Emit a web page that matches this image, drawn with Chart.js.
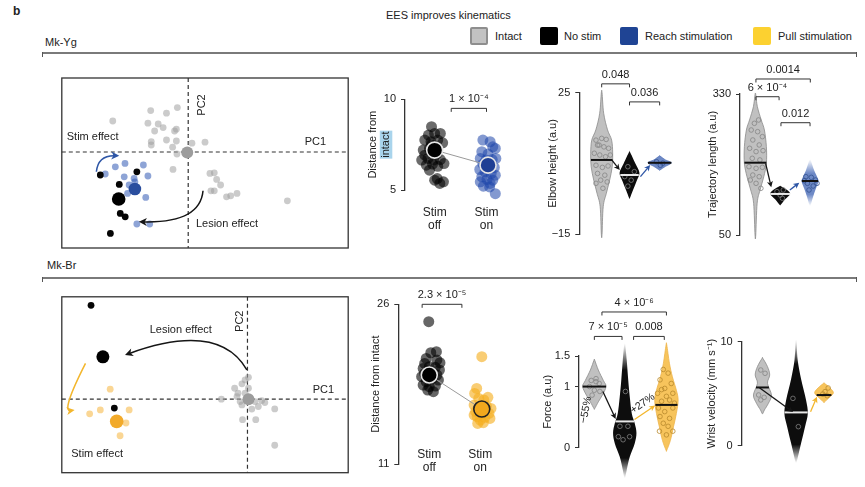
<!DOCTYPE html>
<html><head><meta charset="utf-8">
<script src="https://cdn.jsdelivr.net/npm/chart.js@4.4.1/dist/chart.umd.min.js"></script>
<style>
body{margin:0;width:865px;height:487px;background:#fff;position:relative;overflow:hidden;font-family:"Liberation Sans",Arial,Helvetica,sans-serif;color:#222}
.t{position:absolute;font-size:11px;white-space:nowrap;line-height:1}
canvas{position:absolute}
.sw{position:absolute;width:18px;height:18px;box-sizing:border-box;border-radius:2px}
.rule{position:absolute;height:0;border-top:2px solid #7a7a7a}
.tk{position:absolute;width:0;height:5px;border-left:1.5px solid #555}
</style></head><body>
<div class="t" style="left:13px;top:5px;font-weight:bold;font-size:12px">b</div>
<div class="t" style="left:386px;top:10px">EES improves kinematics</div>
<div class="sw" style="left:470px;top:27px;background:#c2c2c2;border:2px solid #8e8e8e"></div>
<div class="t" style="left:495px;top:31px">Intact</div>
<div class="sw" style="left:540px;top:27px;background:#000"></div>
<div class="t" style="left:564px;top:31px">No stim</div>
<div class="sw" style="left:620px;top:27px;background:#1f4494"></div>
<div class="t" style="left:645px;top:31px">Reach stimulation</div>
<div class="sw" style="left:753px;top:27px;background:#fcd130"></div>
<div class="t" style="left:778px;top:31px">Pull stimulation</div>
<div class="t" style="left:45px;top:37px">Mk-Yg</div>
<div class="rule" style="left:42px;top:52px;width:815px"></div>
<div class="tk" style="left:42px;top:52px"></div><div class="tk" style="left:856px;top:52px"></div>
<div class="t" style="left:47px;top:260px">Mk-Br</div>
<div class="rule" style="left:42px;top:277px;width:815px"></div>
<div class="tk" style="left:42px;top:277px"></div><div class="tk" style="left:856px;top:277px"></div>
<script>
// ================= DATA =================
const groups = ['Intact', 'No stim', 'Reach stimulation', 'Pull stimulation'];

// ---- Mk-Yg : PCA ----
const ygIntactPC1 = [-3.82,-1.9,-1.1,-0.55,-2.04,-1.52,-1.27,-1.7,-0.6,-0.69,-1.1,-0.6,-1.87,-1.87,-0.79,-0.57,0.19,0.85,-0.77,1.1,1.32,1.44,1.64,1.15,1.32,1.94,2.15,2.47,5.02];
const ygIntactPC2 = [1.55,2.07,1.94,2.22,1.44,1.4,1.22,1.05,1.14,1.05,0.6,0.55,0.52,0.35,0.24,-0.1,0.44,0.49,-0.87,-1.07,-1.04,-1.37,-1.65,-1.94,-1.94,-2.24,-2.19,-2.07,-2.44];
const ygReachPC1 = [-4.2,-3.69,-3.2,-2.27,-3.24,-2.74,-2.04,-2.99,-2.7,-2.15,-2.6,-1.95,-3.07];
const ygReachPC2 = [-1.1,-0.74,-0.57,-0.65,-1.24,-1.32,-1.2,-1.65,-1.49,-2.27,-3.6,-3.6,-2.07];
const ygNoStimPC1 = [-4.45,-2.6,-3.49,-3.44,-3.19,-3.94];
const ygNoStimPC2 = [-1.15,-0.99,-1.62,-3.07,-3.24,-4.07];
const ygMeanPC1 = [-0.05,-3.52,-2.7];   // intact, no stim, reach
const ygMeanPC2 = [-0.03,-2.35,-1.85];

// ---- Mk-Yg : distance from intact ----
const ygDistTicks = [10,5];
const ygDistOff = [8.49,8.03,8.12,8.12,7.75,7.66,7.75,7.6,7.29,7.2,6.98,6.74,6.65,6.65,6.68,6.37,6.43,6.31,6.46,6.09,5.63,5.54,5.36,5.45,7.48,7.38,6.92];
const ygDistOffJitter = [-0.06,-0.12,0,0.11,-0.19,-0.07,0.06,0.155,-0.1,-0.22,0.036,-0.13,-0.25,-0.02,0.11,-0.16,-0.04,0.06,0.18,-0.1,0.05,0,0.1,0.17,-0.06,0.02,-0.19];
const ygDistOn = [7.75,7.66,7.29,7.38,7.11,6.98,6.74,6.65,6.68,6.74,6.43,6.31,6.24,6.13,6.0,5.91,5.82,5.73,5.58,5.54,5.21,5.17,4.8,4.65,5.45,5.36];
const ygDistOnJitter = [-0.07,0.07,0.17,0.12,-0.09,0.03,-0.12,-0.01,0.11,0.18,-0.07,0.06,0.15,-0.13,-0.03,0.09,0.17,-0.09,0.01,0.12,-0.06,0.06,0.17,-0.03,-0.12,0.07];
const ygDistMeans = [7.2,6.37];
const ygDistBracket = {x1:1.32, x2:2.0, y:9.5, label:'1 × 10⁻⁴'};

// ---- Mk-Yg : elbow height ----
const elbowTicks = [25,-15];
const elbowTickLabels = ['25','−15'];
const elbowIntactLevels = [25,19.2,14.5,11.6,7.9,4.1,0.3,-3.4,-7.2,-15];
const elbowIntactDensity = [0.03,0.17,0.5,0.85,0.94,0.9,0.68,0.4,0.13,0.03];
const elbowNoStimLevels = [8.3,5,2.3,0,-2.5,-4.8];
const elbowNoStimDensity = [0.03,0.5,0.85,0.6,0.3,0.03];
const elbowReachLevels = [7.1,6,5.2,4.2,3.2];
const elbowReachDensity = [0.03,0.5,1.0,0.5,0.03];
const elbowMedians = [6.0,1.75,5.2];
const elbowIntactPts = [11.6,12.1,11.8,10.2,9.7,9.3,7.9,7.4,6.9,7.4,4.5,3.9,4.3,2.2,1.7,0.3,-0.2,-0.6,-2,10.2];
const elbowIntactJit = [-0.51,0,0.4,-0.37,0.2,0.62,-0.66,-0.17,0.34,0.77,-0.51,0.06,0.57,-0.37,0.28,-0.09,0.49,-0.51,0.11,-0.23];
const elbowNoStimPts = [4.1,2.7,1.3,0.3,-1.4];
const elbowNoStimJit = [-0.15,0.43,-0.43,0.15,-0.15];
const elbowReachPts = [5.5,4.5,5.1];
const elbowReachJit = [-0.28,0.06,0.28];
const elbowBrackets = [{x1:1,x2:1.97,y:27.5,label:'0.048'},{x1:1.97,x2:3.02,y:22.4,label:'0.036'}];
const elbowArrows = [{x1:1.35,y1:6.0,x2:1.63,y2:3.16,c:'black'},{x1:2.35,y1:1.27,x2:2.69,y2:4.58,c:'blue'}];

// ---- Mk-Yg : trajectory length ----
const trajTicks = [330,50];
const trajTickLabels = ['330','50'];
const trajIntactLevels = [329,304.8,278.4,258.5,225.4,192.3,165.8,139.4,112.9,50];
const trajIntactDensity = [0.03,0.17,0.5,0.77,0.94,0.94,0.72,0.4,0.15,0.03];
const trajNoStimLevels = [147.3,139.4,131.5,120.9,109.6];
const trajNoStimDensity = [0.03,0.6,0.85,0.43,0.03];
const trajReachLevels = [200.3,179.1,165.8,155.9,142.7,126.1,107.6];
const trajReachDensity = [0.03,0.34,0.6,0.71,0.51,0.26,0.03];
const trajMedians = [193.6,131.5,157.2];
const trajIntactPts = [258.5,255.2,245.3,238.7,228.8,222.2,215.6,217.5,202.3,199,185.7,182.4,184.4,169.1,165.8,159.2,152.6,142.7,271.8,278.4];
const trajIntactJit = [-0.37,0.2,0.62,-0.23,0.34,-0.51,0.06,0.68,-0.28,0.4,-0.57,0.06,0.62,-0.23,0.34,-0.45,0.06,0.49,-0.09,0.28];
const trajNoStimPts = [136.1,139.4,129.4,122.9];
const trajNoStimJit = [-0.28,0.28,0,0.2];
const trajReachPts = [165.8,164.5,159.2,152.6,147.3,139.4,157.9,152.6];
const trajReachJit = [-0.37,0.11,0.49,-0.23,0.28,-0.09,-0.51,0.62];
const trajBrackets = [{x1:1.02,x2:3.04,y:359.8,label:'0.0014'},{x1:1.02,x2:1.88,y:324.6,label:'6 × 10⁻⁴'},{x1:1.95,x2:3.03,y:273,label:'0.012'}];
const trajArrows = [{x1:1.38,y1:192.4,x2:1.59,y2:144.7,c:'black'},{x1:2.28,y1:139.4,x2:2.63,y2:153.9,c:'blue'}];

// ---- Mk-Br : PCA ----
const brIntactPC1 = [-0.12,0.05,-0.28,-0.65,-0.48,0.05,-0.12,-1.32,-0.37,-0.28,0.38,0.72,0.88,0.55,0.22,1.38,-0.25,0.42,1.38,-0.53];
const brIntactPC2 = [0.97,1.1,0.77,0.55,0.3,0.55,0.3,0,-0.12,-0.29,-0.12,-0.07,-0.17,-0.37,-0.5,-0.49,-1.03,-1.03,-2.32,0.13];
const brPullPC1 = [-6.95,-7.99,-7.45,-5.99,-6.15,-6.45];
const brPullPC2 = [0.5,-0.74,-0.54,-0.54,-1.2,-1.84];
const brNoStimPC1 = [-7.92,-6.74];
const brNoStimPC2 = [4.72,-0.45];
const brMeanPC1 = [0.05,-7.32,-6.62];   // intact, no stim, pull
const brMeanPC2 = [0,2.13,-1.12];

// ---- Mk-Br : distance from intact ----
const brDistTicks = [26,11];
const brDistOff = [24.37,21.45,21.55,20.77,20.92,19.98,20.14,20.08,19.83,19.51,19.2,19.36,19.04,18.73,18.89,18.42,18.26,18.32,17.95,17.79,20.51,20.45];
const brDistOffJitter = [-0.01,0.03,0.14,0.15,-0.06,-0.12,0,0.12,0.2,-0.09,-0.15,0.15,0.06,-0.06,0.18,-0.12,0,0.12,-0.03,0.08,0.21,-0.09];
const brDistOn = [21.08,18.1,17.63,17.26,17.16,17.01,16.54,16.44,16.22,15.91,15.75,15.75,15.44,15.38,15.13,15.6,15.28,14.88,14.81];
const brDistOnJitter = [0.03,-0.07,-0.11,0.15,-0.03,0.07,-0.12,0.12,0.21,-0.09,0.03,0.17,-0.06,0.09,0,-0.12,0.19,0.06,-0.05];
const brDistMeans = [19.36,16.16];
const brDistBracket = {x1:0.86, x2:1.64, y:26, label:'2.3 × 10⁻⁵'};

// ---- Mk-Br : force ----
const forceTicks = [1.5,1,0];
const forceTickLabels = ['1.5','1','0'];
const forceIntactLevels = [1.43,1.27,1.1,1.0,0.86,0.75,0.64];
const forceIntactDensity = [0.03,0.34,0.77,1.0,0.68,0.34,0.03];
const forceNoStimLevels = [1.71,1.43,1.1,0.83,0.56,0.4,0.24,0.07,-0.15,-0.36,-0.5];
const forceNoStimDensity = [0.03,0.17,0.3,0.43,0.6,0.85,1.0,0.85,0.43,0.17,0.03];
const forcePullLevels = [1.68,1.38,1.16,0.94,0.78,0.56,0.34,0.12,-0.04];
const forcePullDensity = [0.03,0.26,0.51,0.85,1.0,0.85,0.6,0.34,0.03];
const forceMedians = [1.0,0.43,0.70];
const forceIntactPts = [1.1,1.13,1.05,1.0,0.94,0.92,0.86,1.08];
const forceIntactJit = [-0.28,0.15,0.43,-0.43,0,0.49,-0.2,0.15];
const forceNoStimPts = [0.92,0.35,0.18,0.13,0.18,0.35];
const forceNoStimJit = [0.06,0.28,-0.57,-0.15,0.43,-0.43];
const forcePullPts = [1.28,1.22,1.11,1.05,0.97,0.89,0.89,0.84,0.76,0.78,0.65,0.65,0.59,0.51,0.48,0.40,0.35,0.27,0.27,0.21,0.95,0.73];
const forcePullJit = [-0.28,0.15,-0.57,0.43,-0.15,-0.79,0.57,0,-0.43,0.28,-0.71,0.57,-0.15,-0.57,0.28,-0.28,0.15,-0.62,0.57,0,-0.43,0.71];
const forceBrackets = [{x1:1.25,x2:3.37,y:2.22,label:'4 × 10⁻⁶'},{x1:1,x2:1.91,y:1.82,label:'7 × 10⁻⁵'},{x1:2.29,x2:3.3,y:1.82,label:'0.008'}];
const forceArrows = [{x1:1.28,y1:0.92,x2:1.7,y2:0.47,c:'black'},{x1:2.32,y1:0.46,x2:3.0,y2:0.69,c:'yellow'}];
const forceNotes = [{t:'−55%',x:0.72,y:0.62,rot:-80},{t:'+27%',x:2.59,y:0.72,rot:-35}];

// ---- Mk-Br : wrist velocity ----
const wristTicks = [10,0];
const wristTickLabels = ['10','0'];
const wristIntactLevels = [8.4,7.6,6.8,6.0,4.88,4.08,3.44,3.1];
const wristIntactDensity = [0.03,0.43,0.62,0.43,0.77,0.51,0.17,0.03];
const wristNoStimLevels = [10.2,8.3,6.4,4.4,3.1,1.85,0.25,-1.67];
const wristNoStimDensity = [0.03,0.13,0.43,0.85,1.0,0.77,0.43,0.03];
const wristPullLevels = [6.0,5.55,5.1,4.7,4.2];
const wristPullDensity = [0.03,0.51,0.8,0.51,0.03];
const wristMedians = [5.6,3.2,4.87];
const wristIntactPts = [7.28,6.96,4.88,4.65,4.4];
const wristIntactJit = [-0.15,0.23,-0.34,0.15,-0.15];
const wristNoStimPts = [4.55,1.83];
const wristNoStimJit = [-0.28,0.2];
const wristPullPts = [5.55,4.97,4.8,5.2];
const wristPullJit = [0.37,-0.11,0.28,0.09];
const wristArrows = [{x1:0.91,y1:5.58,x2:1.91,y2:3.23,c:'black'},{x1:2.43,y1:3.27,x2:2.62,y2:4.71,c:'yellow'}];

// ================= STYLE =================
const FONT = '"Liberation Sans", Arial, Helvetica, sans-serif';
Chart.defaults.font.family = FONT;
Chart.defaults.font.size = 11;
Chart.defaults.color = '#222';
const VIOLIN_HALF_PX = 11.7;
const ARROWC = {black:'#151515', blue:'#2e56a6', yellow:'#f3b62c'};
const VSTYLE = {
  intact:{fill:'#c0c0c0', edge:'#8a8a8a', pt:'#858585', med:'#111'},
  nostim:{fill:'#0d0d0d', edge:null, pt:'#808080', med:'#e8e8e8'},
  reach:{fill:'#6d89c6', edge:'#5674b8', pt:'#34528f', med:'#111'},
  pull:{fill:'#f7c45c', edge:'#eeb44a', pt:'#b8892c', med:'#111'}
};

// ================= HELPERS =================
function addCanvas(b){
  const c=document.createElement('canvas');
  c.width=b.w; c.height=b.h;
  c.style.left=b.x+'px'; c.style.top=b.y+'px';
  c.style.width=b.w+'px'; c.style.height=b.h+'px';
  document.body.appendChild(c); return c;
}
function smoothClosed(ctx,p){
  const n=p.length; ctx.moveTo(p[0][0],p[0][1]);
  for(let i=0;i<n;i++){
    const p0=p[(i-1+n)%n],p1=p[i],p2=p[(i+1)%n],p3=p[(i+2)%n];
    ctx.bezierCurveTo(p1[0]+(p2[0]-p0[0])/6,p1[1]+(p2[1]-p0[1])/6,p2[0]-(p3[0]-p1[0])/6,p2[1]-(p3[1]-p1[1])/6,p2[0],p2[1]);
  }
  ctx.closePath();
}
function head(ctx,x,y,ang,size,color){
  ctx.save(); ctx.translate(x,y); ctx.rotate(ang);
  ctx.beginPath(); ctx.moveTo(0,0); ctx.lineTo(-size,-size*0.5); ctx.lineTo(-size*0.72,0); ctx.lineTo(-size,size*0.5); ctx.closePath();
  ctx.fillStyle=color; ctx.fill(); ctx.restore();
}
function straightArrow(ctx,x1,y1,x2,y2,color){
  const a=Math.atan2(y2-y1,x2-x1);
  ctx.save(); ctx.strokeStyle=color; ctx.lineWidth=1.3;
  ctx.beginPath(); ctx.moveTo(x1,y1); ctx.lineTo(x2-Math.cos(a)*4,y2-Math.sin(a)*4); ctx.stroke(); ctx.restore();
  head(ctx,x2,y2,a,6,color);
}
function curvedArrow(ctx,p0,c,p2,color){
  ctx.save(); ctx.strokeStyle=color; ctx.lineWidth=1.5;
  const a=Math.atan2(p2[1]-c[1],p2[0]-c[0]);
  ctx.beginPath(); ctx.moveTo(p0[0],p0[1]); ctx.quadraticCurveTo(c[0],c[1],p2[0]-Math.cos(a)*4,p2[1]-Math.sin(a)*4); ctx.stroke(); ctx.restore();
  head(ctx,p2[0],p2[1],a,8,color);
}
function bracket(ctx,xs,ys,b){
  const x1=xs.getPixelForValue(b.x1), x2=xs.getPixelForValue(b.x2), y=ys.getPixelForValue(b.y);
  ctx.save(); ctx.strokeStyle='#333'; ctx.lineWidth=1;
  ctx.beginPath(); ctx.moveTo(x1,y+3.5); ctx.lineTo(x1,y); ctx.lineTo(x2,y); ctx.lineTo(x2,y+3.5); ctx.stroke();
  ctx.fillStyle='#222'; ctx.font='11px '+FONT; ctx.textAlign='center'; ctx.textBaseline='middle';
  ctx.fillText(b.label,(x1+x2)/2,y-9); ctx.restore();
}
function interp(levels,dens,v){
  for(let i=0;i<levels.length-1;i++){
    const a=levels[i], b=levels[i+1];
    if((v<=a&&v>=b)||(v>=a&&v<=b)){ const t=(v-a)/(b-a||1); return dens[i]+(dens[i+1]-dens[i])*t; }
  }
  return 0;
}
function yAxis(P,W){
  return {type:'linear', min:P.min, max:P.max,
    afterFit:s=>{s.width=W;},
    afterBuildTicks:s=>{s.ticks=P.ticks.map(v=>({value:v}));},
    ticks:{callback:v=>P.tickLabels[P.ticks.indexOf(v)], font:{size:11}, color:'#222', padding:5},
    grid:{drawOnChartArea:false, drawTicks:true, tickLength:4, color:'#333', lineWidth:1},
    border:{display:true, color:'#333', width:1.3},
    title:{display:true, text:P.title, font:{size:11}, color:'#222', padding:{top:4,bottom:4}}};
}

// ================= VIOLIN PANELS =================
function violinPanel(L,P){
  const canvas=addCanvas(L);
  const W=L.axisX-L.x;
  const xmin=P.groupX[0]-(L.c0-L.axisX)/L.ppu;
  const xmax=xmin+(L.x+L.w-L.axisX)/L.ppu;
  const hwU=VIOLIN_HALF_PX/L.ppu;
  const datasets=P.violins.map(v=>({
    data:v.vals.map((val,i)=>({x:P.groupX[v.g]+v.jit[i]*hwU,y:val})),
    pointRadius:2.3, pointBorderWidth:0.8, pointBackgroundColor:'rgba(0,0,0,0)',
    pointBorderColor:VSTYLE[v.st].pt, clip:false, showLine:false}));
  const plug={id:'vio',
    beforeDatasetsDraw(chart){
      const {ctx,scales:{x,y}}=chart;
      P.violins.forEach(v=>{
        const s=VSTYLE[v.st];
        const cx=x.getPixelForValue(P.groupX[v.g]);
        const hw=VIOLIN_HALF_PX;
        ctx.save(); ctx.beginPath();
        const r=v.levels.map((val,i)=>[cx+v.dens[i]*hw,y.getPixelForValue(val)]);
        const l=v.levels.map((val,i)=>[cx-v.dens[i]*hw,y.getPixelForValue(val)]).reverse();
        smoothClosed(ctx,r.concat(l));
        let fill=s.fill;
        if(v.fade){
          const yt=y.getPixelForValue(v.levels[0]), yb=y.getPixelForValue(v.levels[v.levels.length-1]);
          const g=ctx.createLinearGradient(0,yt,0,yb);
          const rgb=s.fill==='#0d0d0d'?'13,13,13':'109,137,198';
          g.addColorStop(0,'rgba('+rgb+',0)'); g.addColorStop(v.fade[0],'rgba('+rgb+',1)');
          g.addColorStop(v.fade[1],'rgba('+rgb+',1)'); g.addColorStop(1,'rgba('+rgb+',0)');
          fill=g;
        }
        ctx.fillStyle=fill; ctx.fill();
        if(s.edge&&!v.fade){ctx.strokeStyle=s.edge; ctx.lineWidth=0.8; ctx.stroke();}
        ctx.restore();
      });
    },
    afterDatasetsDraw(chart){
      const {ctx,scales:{x,y}}=chart;
      P.violins.forEach(v=>{
        const s=VSTYLE[v.st];
        const cx=x.getPixelForValue(P.groupX[v.g]);
        const w=Math.max(interp(v.levels,v.dens,v.median),0.55)*VIOLIN_HALF_PX;
        const my=y.getPixelForValue(v.median);
        ctx.save(); ctx.strokeStyle=s.med; ctx.lineWidth=2;
        ctx.beginPath(); ctx.moveTo(cx-w,my); ctx.lineTo(cx+w,my); ctx.stroke(); ctx.restore();
      });
      (P.arrows||[]).forEach(a=>straightArrow(ctx,x.getPixelForValue(a.x1),y.getPixelForValue(a.y1),x.getPixelForValue(a.x2),y.getPixelForValue(a.y2),ARROWC[a.c]));
      (P.brackets||[]).forEach(b=>bracket(ctx,x,y,b));
      (P.notes||[]).forEach(n=>{
        ctx.save(); ctx.translate(x.getPixelForValue(n.x),y.getPixelForValue(n.y)); ctx.rotate(n.rot*Math.PI/180);
        ctx.fillStyle='#222'; ctx.font='10.5px '+FONT; ctx.textAlign='center'; ctx.textBaseline='middle';
        ctx.fillText(n.t,0,0); ctx.restore();
      });
    }};
  new Chart(canvas,{type:'scatter',data:{datasets},
    options:{responsive:false,animation:false,devicePixelRatio:1,events:[],
      layout:{padding:{left:0,right:0,top:L.top-L.y,bottom:L.y+L.h-L.bottom}},
      plugins:{legend:{display:false},tooltip:{enabled:false}},
      scales:{x:{type:'linear',display:false,min:xmin,max:xmax},y:yAxis(P,W)}},
    plugins:[plug]});
}

// ================= DISTANCE PANELS =================
function distPanel(L,P){
  const canvas=addCanvas(L);
  const W=L.axisX-L.x;
  const xmin=1-(L.c0-L.axisX)/L.ppu;
  const xmax=xmin+(L.x+L.w-L.axisX)/L.ppu;
  const means=[{x:1,y:P.means[0]},{x:2.03,y:P.means[1]}];
  const datasets=[
    {data:means,pointRadius:8,pointBackgroundColor:P.meanFill,pointBorderColor:P.meanEdge,pointBorderWidth:1.6,order:1,clip:false},
    {data:means,showLine:true,borderColor:'#9a9a9a',borderWidth:1,pointRadius:0,order:2,clip:false},
    {data:P.off.map((v,i)=>({x:1+P.offJit[i],y:v})),pointRadius:5.5,pointBorderWidth:0,pointBackgroundColor:P.offColor,order:3,clip:false},
    {data:P.on.map((v,i)=>({x:2+P.onJit[i],y:v})),pointRadius:5.5,pointBorderWidth:0,pointBackgroundColor:P.onColor,order:3,clip:false}];
  const plug={id:'dist',
    beforeDraw(chart){
      if(!P.highlight) return;
      const {ctx}=chart; const s=chart.scales.y;
      const cy=(s.top+s.bottom)/2; const lx=s.left+4+6.6+13.2;
      ctx.save(); ctx.fillStyle='#a9d4ec'; ctx.fillRect(lx-6,cy-14,12.5,28); ctx.restore();
    },
    afterDatasetsDraw(chart){
      const {ctx,scales:{x,y}}=chart;
      bracket(ctx,x,y,P.bracket);
      ctx.save(); ctx.fillStyle='#222'; ctx.font='12px '+FONT; ctx.textAlign='center'; ctx.textBaseline='middle';
      P.cats.forEach((lines,i)=>{ const cx=x.getPixelForValue(i+1); lines.forEach((t,j)=>ctx.fillText(t,cx,L.catY[j]-L.y)); });
      ctx.restore();
    }};
  new Chart(canvas,{type:'scatter',data:{datasets},
    options:{responsive:false,animation:false,devicePixelRatio:1,events:[],
      layout:{padding:{left:0,right:0,top:L.top-L.y,bottom:L.y+L.h-L.bottom}},
      plugins:{legend:{display:false},tooltip:{enabled:false}},
      scales:{x:{type:'linear',display:false,min:xmin,max:xmax},y:yAxis(P,W)}},
    plugins:[plug]});
}

// ================= PCA PANELS =================
function pcaPanel(L,P){
  const canvas=addCanvas(L);
  const datasets=[
    {data:P.means.map((m,i)=>({x:m[0],y:m[1]})),pointRadius:P.meanR,pointBackgroundColor:P.meanColors,pointBorderWidth:0,order:1},
    {data:P.other.map(o=>({x:o[0],y:o[1]})),pointRadius:3.4,pointBorderWidth:0,pointBackgroundColor:P.otherColors,order:2},
    {data:P.intact.map(o=>({x:o[0],y:o[1]})),pointRadius:3.4,pointBorderWidth:0,pointBackgroundColor:'rgba(160,160,160,0.55)',order:3}];
  const plug={id:'pca',
    beforeDatasetsDraw(chart){
      const {ctx,chartArea:a,scales:{x,y}}=chart;
      ctx.save(); ctx.strokeStyle='#333'; ctx.lineWidth=1.3;
      ctx.strokeRect(a.left,a.top,a.right-a.left,a.bottom-a.top);
      ctx.setLineDash([4,3]); ctx.lineWidth=1.2;
      const x0=x.getPixelForValue(0), y0=y.getPixelForValue(0);
      ctx.beginPath(); ctx.moveTo(x0,a.top); ctx.lineTo(x0,a.bottom); ctx.moveTo(a.left,y0); ctx.lineTo(a.right,y0); ctx.stroke();
      ctx.restore();
    },
    afterDatasetsDraw(chart){
      const {ctx,scales:{x,y}}=chart;
      const px=p=>[x.getPixelForValue(p[0]),y.getPixelForValue(p[1])];
      P.arrows.forEach(a=>curvedArrow(ctx,px(a.from),px(a.ctrl),px(a.to),ARROWC[a.c]));
      ctx.save(); ctx.fillStyle='#222'; ctx.font='11px '+FONT; ctx.textBaseline='middle';
      P.texts.forEach(t=>{
        const p=px([t.x,t.y]);
        ctx.save(); ctx.translate(p[0],p[1]);
        if(t.rot){ctx.rotate(t.rot*Math.PI/180); ctx.textAlign='center';} else ctx.textAlign='left';
        ctx.fillText(t.t,0,0); ctx.restore();
      });
      ctx.restore();
    }};
  new Chart(canvas,{type:'scatter',data:{datasets},
    options:{responsive:false,animation:false,devicePixelRatio:1,events:[],
      layout:{padding:{left:L.pl,right:L.pr,top:L.pt,bottom:L.pb}},
      plugins:{legend:{display:false},tooltip:{enabled:false}},
      scales:{x:{type:'linear',display:false,min:P.xmin,max:P.xmax},y:{type:'linear',display:false,min:P.ymin,max:P.ymax}}},
    plugins:[plug]});
}

// ================= BUILD =================
const zip=(a,b)=>a.map((v,i)=>[v,b[i]]);
const ygOther=zip(ygReachPC1,ygReachPC2).concat(zip(ygNoStimPC1,ygNoStimPC2));
pcaPanel({x:55,y:70,w:300,h:185,pl:5,pr:5,pt:8,pb:7},
 {xmin:-6.4,xmax:8.1,ymin:-4.8,ymax:3.7,
  intact:zip(ygIntactPC1,ygIntactPC2), other:ygOther,
  otherColors:ygReachPC1.map(()=> 'rgba(50,90,180,0.55)').concat(ygNoStimPC1.map(()=> '#050505')),
  means:zip(ygMeanPC1,ygMeanPC2), meanColors:['#9c9c9c','#000','#2a4e9e'], meanR:[6,6.8,6.3],
  arrows:[{from:[-4.65,-0.99],ctrl:[-4.57,-0.15],to:[-3.49,-0.19],c:'blue'},{from:[0.75,-1.94],ctrl:[0.6,-3.57],to:[-2.5,-3.49],c:'black'}],
  texts:[{t:'Stim effect',x:-6.15,y:0.75},{t:'Lesion effect',x:0.39,y:-3.58},{t:'PC1',x:5.9,y:0.52},{t:'PC2',x:0.68,y:2.35,rot:-90}]});

const brOther=zip(brPullPC1,brPullPC2).concat(zip(brNoStimPC1,brNoStimPC2));
pcaPanel({x:55,y:290,w:300,h:190,pl:5.7,pr:4.3,pt:5.7,pb:7.3},
 {xmin:-9.4,xmax:5.1,ymin:-3.7,ymax:5.15,
  intact:zip(brIntactPC1,brIntactPC2), other:brOther,
  otherColors:brPullPC1.map(()=> 'rgba(245,180,60,0.55)').concat(brNoStimPC1.map(()=> '#050505')),
  means:zip(brMeanPC1,brMeanPC2), meanColors:['#9c9c9c','#000','#f2aa2a'], meanR:[6,6.5,6.8],
  arrows:[{from:[-0.03,1.47],ctrl:[-1.45,3.93],to:[-6.2,2.22],c:'black'},{from:[-8.2,1.8],ctrl:[-9.45,-0.65],to:[-8.75,-0.54],c:'yellow'}],
  texts:[{t:'Lesion effect',x:-4.95,y:3.47},{t:'Stim effect',x:-8.92,y:-2.74},{t:'PC1',x:3.3,y:0.47},{t:'PC2',x:-0.37,y:3.92,rot:-90}]});

distPanel({x:362,y:62,w:173,h:178,axisX:405,top:99.3,bottom:190,c0:437,ppu:56,catY:[213,226]},
 {min:5,max:10,ticks:ygDistTicks,tickLabels:ygDistTicks.map(String),title:['Distance from','intact'],highlight:true,
  off:ygDistOff,offJit:ygDistOffJitter,on:ygDistOn,onJit:ygDistOnJitter,means:ygDistMeans,
  offColor:'rgba(0,0,0,0.58)',onColor:'rgba(30,70,170,0.55)',meanFill:['#000','#1f3f94'],meanEdge:['#e6e6e6','#e6e6e6'],
  bracket:ygDistBracket,cats:[['Stim','off'],['Stim','on']]});

distPanel({x:365,y:288,w:165,h:199,axisX:398.3,top:304.3,bottom:464,c0:431.7,ppu:55,catY:[455,468]},
 {min:11,max:26,ticks:brDistTicks,tickLabels:brDistTicks.map(String),title:'Distance from intact',
  off:brDistOff,offJit:brDistOffJitter,on:brDistOn,onJit:brDistOnJitter,means:brDistMeans,
  offColor:'rgba(0,0,0,0.6)',onColor:'rgba(245,175,30,0.62)',meanFill:['#000','#f2a81d'],meanEdge:['#e6e6e6','#222'],
  bracket:brDistBracket,cats:[['Stim','off'],['Stim','on']]});

violinPanel({x:542,y:62,w:148,h:188,axisX:579.3,top:92.7,bottom:234.3,c0:602.7,ppu:30},
 {min:-15,max:25,ticks:elbowTicks,tickLabels:elbowTickLabels,title:'Elbow height (a.u)',groupX:[1,1.97,3.02],
  violins:[
   {g:0,st:'intact',levels:elbowIntactLevels,dens:elbowIntactDensity,median:elbowMedians[0],vals:elbowIntactPts,jit:elbowIntactJit},
   {g:1,st:'nostim',levels:elbowNoStimLevels,dens:elbowNoStimDensity,median:elbowMedians[1],vals:elbowNoStimPts,jit:elbowNoStimJit},
   {g:2,st:'reach',levels:elbowReachLevels,dens:elbowReachDensity,median:elbowMedians[2],vals:elbowReachPts,jit:elbowReachJit}],
  brackets:elbowBrackets,arrows:elbowArrows});

violinPanel({x:702,y:58,w:163,h:192,axisX:740,top:94,bottom:235,c0:756,ppu:28},
 {min:50,max:330,ticks:trajTicks,tickLabels:trajTickLabels,title:'Trajectory length (a.u)',groupX:[1,1.92,3.03],
  violins:[
   {g:0,st:'intact',levels:trajIntactLevels,dens:trajIntactDensity,median:trajMedians[0],vals:trajIntactPts,jit:trajIntactJit},
   {g:1,st:'nostim',levels:trajNoStimLevels,dens:trajNoStimDensity,median:trajMedians[1],vals:trajNoStimPts,jit:trajNoStimJit},
   {g:2,st:'reach',levels:trajReachLevels,dens:trajReachDensity,median:trajMedians[2],vals:trajReachPts,jit:trajReachJit,fade:[0.3,0.75]}],
  brackets:trajBrackets,arrows:trajArrows});

violinPanel({x:537,y:290,w:160,h:197,axisX:579,top:356,bottom:447.7,c0:595,ppu:31.7},
 {min:0,max:1.5,ticks:forceTicks,tickLabels:forceTickLabels,title:'Force (a.u)',groupX:[1,2,3.37],
  violins:[
   {g:0,st:'intact',levels:forceIntactLevels,dens:forceIntactDensity,median:forceMedians[0],vals:forceIntactPts,jit:forceIntactJit},
   {g:1,st:'nostim',levels:forceNoStimLevels,dens:forceNoStimDensity,median:forceMedians[1],vals:forceNoStimPts,jit:forceNoStimJit,fade:[0.2,0.85]},
   {g:2,st:'pull',levels:forcePullLevels,dens:forcePullDensity,median:forceMedians[2],vals:forcePullPts,jit:forcePullJit}],
  brackets:forceBrackets,arrows:forceArrows,notes:forceNotes});

violinPanel({x:701,y:300,w:164,h:187,axisX:741.7,top:341.7,bottom:445.7,c0:763.3,ppu:35},
 {min:0,max:10,ticks:wristTicks,tickLabels:wristTickLabels,title:'Wrist velocity (mm s⁻¹)',groupX:[1,2,2.83],
  violins:[
   {g:0,st:'intact',levels:wristIntactLevels,dens:wristIntactDensity,median:wristMedians[0],vals:wristIntactPts,jit:wristIntactJit},
   {g:1,st:'nostim',levels:wristNoStimLevels,dens:wristNoStimDensity,median:wristMedians[1],vals:wristNoStimPts,jit:wristNoStimJit,fade:[0.2,0.85]},
   {g:2,st:'pull',levels:wristPullLevels,dens:wristPullDensity,median:wristMedians[2],vals:wristPullPts,jit:wristPullJit}],
  arrows:wristArrows});
</script>
</body></html>
